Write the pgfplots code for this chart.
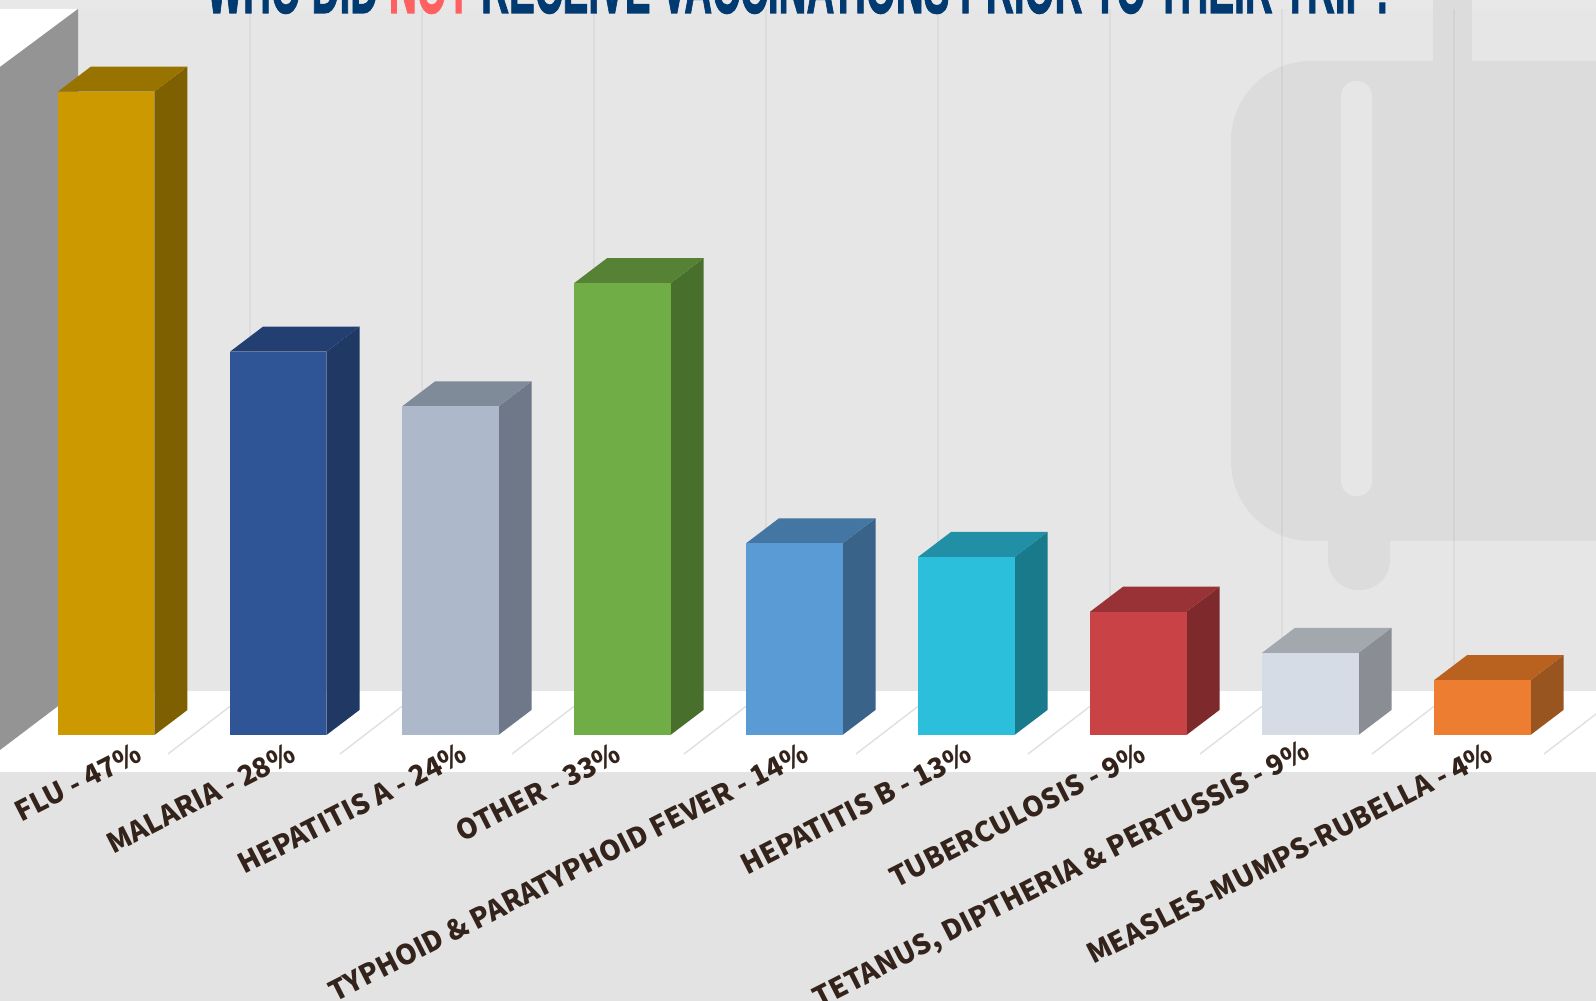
\documentclass[border=0pt]{standalone}
\usepackage{fontspec}
\usepackage{pgfplots}
\pgfplotsset{compat=1.18}
\setmainfont{Noto Sans CJK JP}
\newfontfamily\titlefont[BoldFeatures={FakeBold=1.6}]{Liberation Sans}

\definecolor{wall}{HTML}{E6E6E6}
\definecolor{strip}{HTML}{E8E8E8}
\definecolor{lowerband}{HTML}{E3E3E3}
\definecolor{bag}{HTML}{DCDCDC}
\definecolor{sidewall}{HTML}{949494}
\definecolor{navy}{HTML}{003A70}
\definecolor{coral}{HTML}{FF6060}
\definecolor{labelink}{HTML}{33231A}

% front, top and side colour of each bar
\definecolor{fluF}{HTML}{CC9900}\definecolor{fluT}{HTML}{987300}\definecolor{fluS}{HTML}{7F6000}
\definecolor{malF}{HTML}{2F5597}\definecolor{malT}{HTML}{233F72}\definecolor{malS}{HTML}{1F3864}
\definecolor{hepaF}{HTML}{ADB9CA}\definecolor{hepaT}{HTML}{808B99}\definecolor{hepaS}{HTML}{6F7888}
\definecolor{othF}{HTML}{70AD47}\definecolor{othT}{HTML}{558234}\definecolor{othS}{HTML}{48702C}
\definecolor{typF}{HTML}{5B9BD5}\definecolor{typT}{HTML}{4476A3}\definecolor{typS}{HTML}{3A638A}
\definecolor{hepbF}{HTML}{2BBFDB}\definecolor{hepbT}{HTML}{218FA5}\definecolor{hepbS}{HTML}{197A8C}
\definecolor{tubF}{HTML}{C84246}\definecolor{tubT}{HTML}{983236}\definecolor{tubS}{HTML}{7E2A2C}
\definecolor{tetF}{HTML}{D6DCE5}\definecolor{tetT}{HTML}{A3A7AE}\definecolor{tetS}{HTML}{8A8E94}
\definecolor{meaF}{HTML}{ED7D31}\definecolor{meaT}{HTML}{B9611F}\definecolor{meaS}{HTML}{99551F}

\pgfplotsset{
  front/.style={ybar, bar width=48.25pt, bar shift=0pt, draw=none, fill=#1},
  face/.style={draw=none, fill=#1},
}

\begin{document}
\begin{tikzpicture}
\useasboundingbox (0,0) rectangle (798pt,500.5pt);
\clip (0,0) rectangle (798pt,500.5pt);

% backdrop, in reference pixels
\begin{scope}[x=0.5pt,y=-0.5pt,yshift=500.5pt]
  \fill[wall] (0,0) rectangle (1596,1001);
  \fill[strip] (0,0) rectangle (1596,9);
  \fill[bag,rounded corners=15pt] (1328,500) rectangle (1390,590);
  \fill[bag] (1433,0) rectangle (1472,100);
  \fill[bag,rounded corners=40pt] (1231,61) rectangle (1800,541);
  \fill[wall,rounded corners=7.5pt] (1341,81) rectangle (1372,496);
  \foreach \gx in {250,422,594,766,938,1110,1282,1454}
    \draw[black,opacity=0.04,line width=0.9pt] (\gx,9) -- (\gx,691);
  \fill[white] (0,691) rectangle (1596,772);
  \fill[lowerband] (0,772) rectangle (1596,1001);
  \foreach \gx in {250,422,594,766,938,1110,1282,1454,1626}
    \draw[black!12,line width=0.7pt] (\gx,691) -- (\gx-82,754);
  \fill[white] (0,9) -- (78,9) -- (0,67) -- cycle;
  \fill[sidewall] (0,67) -- (78,9) -- (78,691) -- (0,750) -- cycle;
\end{scope}

\node[anchor=base,text=navy,font=\titlefont\bfseries\fontsize{38}{38}\selectfont,xscale=0.508,inner sep=0pt]
  at (400.4pt,494pt) {WHO DID \textcolor{coral}{NOT} RECEIVE VACCINATIONS PRIOR TO THEIR TRIP?};

\begin{axis}[
  at={(0,133pt)}, anchor=south west,
  scale only axis, width=798pt, height=367.5pt,
  xmin=-0.6177, xmax=8.6613, ymin=0, ymax=53.69,
  clip=false,
  axis line style={draw=none},
  tick style={draw=none},
  major tick length=0pt,
  ytick=\empty,
  xtick={0.19,1.09,2.085,2.98,4.068,5.016,6.027,6.992,8.05},
  xticklabels={
    FLU - 47\%,
    MALARIA - 28\%,
    HEPATITIS A - 24\%,
    OTHER - 33\%,
    TYPHOID \& PARATYPHOID FEVER - 14\%,
    HEPATITIS B - 13\%,
    TUBERCULOSIS - 9\%,
    {TETANUS, DIPTHERIA \& PERTUSSIS - 9\%},
    MEASLES-MUMPS-RUBELLA - 4\%},
  xticklabel shift=8pt,
  xticklabel style={rotate=27, anchor=east, inner sep=0pt, text=labelink,
    font=\bfseries\fontsize{13.75}{13.75}\selectfont},
]
% flu
\addplot[face=fluS] coordinates {(0.2805,0) (0.2805,47) (0.4724,48.83) (0.4724,1.83)};
\addplot[face=fluT] coordinates {(-0.2805,47) (0.2805,47) (0.4724,48.83) (-0.0886,48.83)};
\addplot[front=fluF] coordinates {(0,47)};
% malaria
\addplot[face=malS] coordinates {(1.2805,0) (1.2805,28) (1.4724,29.83) (1.4724,1.83)};
\addplot[face=malT] coordinates {(0.7195,28) (1.2805,28) (1.4724,29.83) (0.9114,29.83)};
\addplot[front=malF] coordinates {(1,28)};
% hepatitis a
\addplot[face=hepaS] coordinates {(2.2805,0) (2.2805,24) (2.4724,25.83) (2.4724,1.83)};
\addplot[face=hepaT] coordinates {(1.7195,24) (2.2805,24) (2.4724,25.83) (1.9114,25.83)};
\addplot[front=hepaF] coordinates {(2,24)};
% other
\addplot[face=othS] coordinates {(3.2805,0) (3.2805,33) (3.4724,34.83) (3.4724,1.83)};
\addplot[face=othT] coordinates {(2.7195,33) (3.2805,33) (3.4724,34.83) (2.9114,34.83)};
\addplot[front=othF] coordinates {(3,33)};
% typhoid
\addplot[face=typS] coordinates {(4.2805,0) (4.2805,14) (4.4724,15.83) (4.4724,1.83)};
\addplot[face=typT] coordinates {(3.7195,14) (4.2805,14) (4.4724,15.83) (3.9114,15.83)};
\addplot[front=typF] coordinates {(4,14)};
% hepatitis b
\addplot[face=hepbS] coordinates {(5.2805,0) (5.2805,13) (5.4724,14.83) (5.4724,1.83)};
\addplot[face=hepbT] coordinates {(4.7195,13) (5.2805,13) (5.4724,14.83) (4.9114,14.83)};
\addplot[front=hepbF] coordinates {(5,13)};
% tuberculosis
\addplot[face=tubS] coordinates {(6.2805,0) (6.2805,9) (6.4724,10.83) (6.4724,1.83)};
\addplot[face=tubT] coordinates {(5.7195,9) (6.2805,9) (6.4724,10.83) (5.9114,10.83)};
\addplot[front=tubF] coordinates {(6,9)};
% tetanus, drawn shorter than its 9% label in the reference
\addplot[face=tetS] coordinates {(7.2805,0) (7.2805,6) (7.4724,7.83) (7.4724,1.83)};
\addplot[face=tetT] coordinates {(6.7195,6) (7.2805,6) (7.4724,7.83) (6.9114,7.83)};
\addplot[front=tetF] coordinates {(7,6)};
% measles
\addplot[face=meaS] coordinates {(8.2805,0) (8.2805,4) (8.4724,5.83) (8.4724,1.83)};
\addplot[face=meaT] coordinates {(7.7195,4) (8.2805,4) (8.4724,5.83) (7.9114,5.83)};
\addplot[front=meaF] coordinates {(8,4)};
\end{axis}
\end{tikzpicture}
\end{document}
